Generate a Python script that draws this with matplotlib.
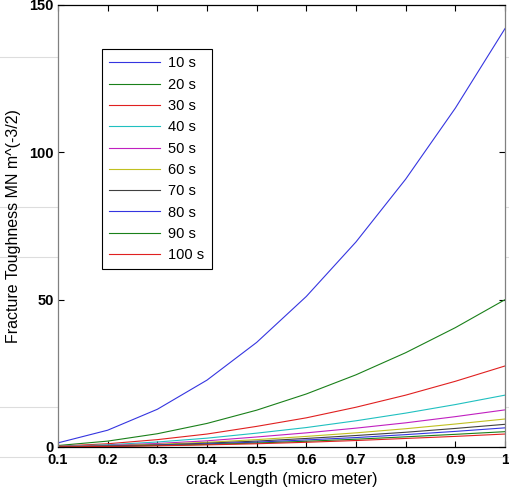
import numpy as np
import matplotlib
matplotlib.use('Agg')
import matplotlib.pyplot as plt
from matplotlib.lines import Line2D

plt.rcParams['font.family'] = ['Liberation Sans', 'DejaVu Sans']

# crack length (micro meter)
crack_length = [0.1, 0.2, 0.3, 0.4, 0.5, 0.6, 0.7, 0.8, 0.9, 1.0]

# fracture toughness, one list per time
k_10s = [1.4, 5.7, 12.8, 22.7, 35.5, 51.1, 69.6, 90.9, 115.0, 142.0]
k_20s = [0.5, 2.0, 4.5, 8.0, 12.5, 18.0, 24.5, 32.0, 40.5, 50.0]
k_30s = [0.28, 1.1, 2.5, 4.4, 7.0, 9.9, 13.5, 17.6, 22.3, 27.5]
k_40s = [0.18, 0.75, 1.7, 3.0, 4.7, 6.6, 8.9, 11.5, 14.4, 17.6]
k_50s = [0.13, 0.55, 1.2, 2.1, 3.4, 4.8, 6.4, 8.2, 10.3, 12.6]
k_60s = [0.10, 0.40, 0.9, 1.6, 2.5, 3.6, 4.8, 6.2, 7.8, 9.5]
k_70s = [0.08, 0.32, 0.72, 1.3, 2.0, 2.9, 3.9, 5.0, 6.3, 7.7]
k_80s = [0.06, 0.27, 0.6, 1.05, 1.65, 2.4, 3.2, 4.2, 5.3, 6.5]
k_90s = [0.05, 0.22, 0.49, 0.87, 1.35, 1.95, 2.65, 3.45, 4.3, 5.2]
k_100s = [0.05, 0.18, 0.41, 0.72, 1.1, 1.6, 2.2, 2.9, 3.6, 4.4]

labels = ['10 s', '20 s', '30 s', '40 s', '50 s', '60 s', '70 s', '80 s', '90 s', '100 s']
series = [k_10s, k_20s, k_30s, k_40s, k_50s, k_60s, k_70s, k_80s, k_90s, k_100s]

# old matlab colour order, a bit softened
colors = ['#3535e0', '#1a801a', '#e02020', '#20c0c0', '#c020c0',
          '#c0c020', '#404040', '#3535e0', '#1a801a', '#e02020']

fig = plt.figure(figsize=(5.1, 4.9), dpi=100)

# faint background lines outside the axes
for ypix in [57, 207, 257, 407, 457]:
    fig.add_artist(Line2D([0, 1], [1 - ypix / 490, 1 - ypix / 490],
                          color='#dddddd', lw=0.8, zorder=0))

ax = fig.add_axes([58 / 510, 1 - 447 / 490, 447 / 510, 442 / 490])
ax.set_zorder(1)

for vals, lab, c in zip(series, labels, colors):
    ax.plot(crack_length, vals, color=c, lw=0.8, label=lab)

ax.set_xlim(0.1, 1)
ax.set_ylim(0, 150)
ax.set_xticks([0.1, 0.2, 0.3, 0.4, 0.5, 0.6, 0.7, 0.8, 0.9, 1.0])
ax.set_xticklabels(['0.1', '0.2', '0.3', '0.4', '0.5', '0.6', '0.7', '0.8', '0.9', '1'])
ax.set_yticks([0, 50, 100, 150])
ax.tick_params(direction='in', top=True, right=True, length=4, width=0.8,
               labelsize=10.5)
ax.tick_params(axis='x', pad=4)
ax.tick_params(axis='y', pad=3)
for t in ax.get_xticklabels() + ax.get_yticklabels():
    t.set_fontweight('bold')

ax.spines['left'].set_color('#808080')
ax.spines['right'].set_color('#808080')
for s in ax.spines.values():
    s.set_linewidth(0.9)

ax.set_xlabel('crack Length (micro meter)', fontsize=11.5, labelpad=4)
ax.set_ylabel('Fracture Toughness MN m^(-3/2)', fontsize=11.5, labelpad=6)

leg = ax.legend(loc='upper left', bbox_to_anchor=(0.098, 0.9), fontsize=10.5,
                handlelength=3.5, labelspacing=0.5, borderpad=0.5,
                handletextpad=0.55, borderaxespad=0, fancybox=False, framealpha=1)
leg.get_frame().set_edgecolor('black')
leg.get_frame().set_linewidth(0.8)

plt.savefig('out.png', dpi=100)
